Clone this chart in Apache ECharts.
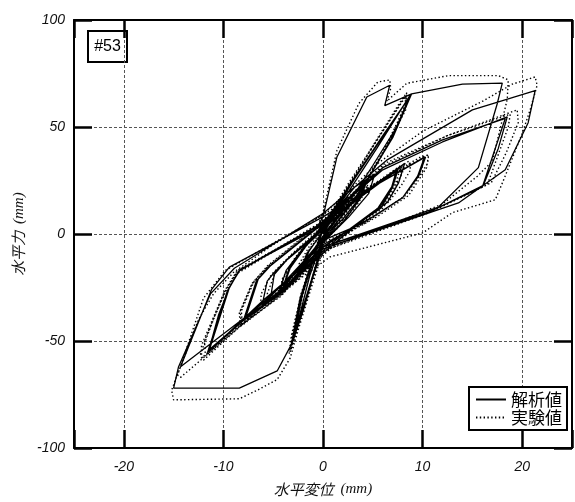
<!DOCTYPE html>
<html>
<head>
<meta charset="utf-8">
<script src="https://cdn.jsdelivr.net/npm/echarts@6/dist/echarts.min.js"></script>
<style>
html,body{margin:0;padding:0;background:#fff;}
#chart{width:575px;height:502px;}
</style>
</head>
<body>
<div id="chart"></div>
<script>
// ---- data ----
const xTickLabels = [-20, -10, 0, 10, 20];
const yTickLabels = [-100, -50, 0, 50, 100];
const seriesNames = ['解析値', '実験値'];
const specimenLabel = '#53';

// analysis (solid) load path [displacement mm, force]
const analysisPts = [
  [0,0],[1.2,9],[2.2,16],[1.6,9],[0.3,1],[-1.2,-9],[-2.0,-15],[-1.4,-8],[-0.2,0],[1.3,10],[2.5,18],[1.8,10],[0.3,0],[-1.3,-10],[-2.3,-17],[-1.6,-9],[0,1],
  [1.5,11],[3.0,19],[4.3,25],[3.7,17],[2.0,7],[0,-2],[-1.8,-12],[-3.2,-20],[-4.0,-25],[-3.3,-16],[-1.6,-5],[0,2],[2.0,13],[4.5,26],[3.8,17],[2.1,6],[0,-3],[-2.0,-13],[-4.1,-26],[-3.4,-16],[-1.7,-5],[0,3],
  [1.8,14],[3.2,22],[5.2,28],[4.6,19],[2.6,8],[0,-4],[-2.2,-15],[-4.4,-27],[-3.7,-17],[-1.9,-6],[0,4],
  [3,25],[6,46],[8.9,65.5],[7,45],[4,22],[1,3],[0,-3],[-1,-20],[-2,-36],[-3.1,-51],[-2.2,-30],[-1,-12],[0,2],[3.2,26],[8.8,65],[6.8,44],[3.8,20],[0.8,2],[0,-4],[-1.1,-21],[-3.0,-50],[-2.1,-29],[-0.9,-11],[0,3],
  [2.6,20],[5.4,40],[8.7,64.5],[7.4,50],[5,32],[2.5,14],[0,-2],[-1.3,-19],[-2.9,-48],[-2.4,-33],[-1.2,-14],[0,2],
  [3.5,17],[7.4,30],[6.9,22],[5.5,12],[2,0],[0,-8],[-2.5,-19],[-5.3,-31],[-4.9,-19],[-3.6,-12],[0,2],
  [3.7,18],[7.6,31],[7.0,22],[5.6,12],[2,-1],[0,-9],[-3,-22],[-6.1,-33],[-5.6,-22],[-4.9,-18],[-3.4,-11],[0,3],
  [2.8,24],[8.9,65.5],[6.6,42],[3.5,18],[0,-3],[-1.2,-22],[-3.2,-52],[-2.3,-30],[-1,-11],[0,3],
  [5,22],[10.3,36],[9.6,27],[8,17],[5,8],[0,-5],[-4,-26],[-7.9,-40],[-6.6,-21.5],[-5.4,-15.3],[-0.6,3],
  [4.8,21],[8.2,33],[7.6,24],[6.5,15],[3,3],[0,-6],[-4.1,-27],[-7.8,-39.5],[-6.5,-21],[-5.3,-15],[-0.5,3],
  [4,18],[7.5,30],[7,22],[5.8,12],[2,0],[0,-8],[-4,-27],[-8,-40.5],[-6.7,-22],[-5.5,-15.5],[-0.6,3],
  [0,8],[1.4,36],[4.4,64],[6.7,69.5],[6.2,60],[8.9,65.5],[14,70],[18,70.5],[17.5,61],[15.6,31],[11.6,12.6],[0,-6],[-1,-20],[-3.1,-51],[-4.6,-64],[-8.4,-72],[-15,-72],[-14.5,-62],[-11.3,-28],[-8.9,-16],[0,9.6],
  [6.4,34.5],[15,58],[21.3,67],[20.6,52],[18.3,30],[13.6,14.5],[0,-7],[-6,-31],[-11.5,-55],[-10.5,-38],[-9.5,-26],[-8.4,-17],[-0.5,4],
  [6,30],[12,43],[18.5,54.7],[17.6,40],[16.1,22.8],[10.7,10.3],[0,-6],[-6,-32],[-11.6,-55.5],[-9.6,-26.5],[-8.5,-17.5],[-0.4,4],
  [6,31],[12,44],[18.3,54],[16,22],[10.5,10],[0,-7],[-7,-36],[-14.3,-62],[-11.2,-26],[-9.4,-15.5],[0,8],
  [5,22],[10.2,36],[9.5,27],[8,17],[4,5],[0,-3],[-5,-28],[-11.4,-54],[-9.4,-25],[-8.3,-16.5],[0,4],[2,10],[0,0]
];

// experiment (dotted) load path [displacement mm, force]
const testPts = [
  [0,0],[1.0,8],[2.0,15],[2.2,14],[1.2,6],[0,-1],[-1.1,-9],[-1.9,-15],[-2.1,-13],[-1.2,-6],[0,1],[1.2,9],[2.4,17],[2.5,15],[1.5,7],[0,-2],[-1.2,-10],[-2.3,-17],[-2.4,-14],[-1.4,-6],[0,2],
  [1.6,10],[3.1,18],[4.4,24],[4.3,20],[3.2,12],[1.5,4],[0,-3],[-1.9,-13],[-3.3,-21],[-4.2,-26],[-4.0,-21],[-2.8,-12],[-1.4,-4],[0,3],[2.1,13],[4.6,26],[4.4,21],[3,12],[1.5,3],[0,-4],[-2.1,-14],[-4.3,-27],[-4.1,-21],[-2.8,-11],[-1.4,-3],[0,4],
  [2.5,22],[5.5,45],[7.8,62],[8.4,66],[8.2,60],[6.5,42],[3.5,18],[1,2],[0,-5],[-1.1,-22],[-2.1,-38],[-3.2,-54],[-3.0,-48],[-2.0,-28],[-0.8,-10],[0,3],[3,26],[8.2,64],[8.5,62],[6.2,40],[3.2,16],[0.6,0],[0,-5],[-1.2,-23],[-3.3,-55],[-3.1,-47],[-2,-27],[-0.8,-9],[0,4],
  [3.6,18],[7.2,30],[7.8,31],[7.3,24],[5.8,13],[2.5,1],[0,-9],[-2.6,-21],[-5.5,-33],[-5.6,-28],[-4.8,-18],[-3.2,-10],[0,3],
  [3.8,19],[7.8,32],[8.0,29],[7.2,22],[5.8,12],[2.2,-1],[0,-10],[-3.1,-24],[-6.3,-35],[-6.2,-28],[-5.2,-19],[-3.5,-11],[0,4],
  [2.6,24],[8.4,65],[8.3,58],[6.3,40],[3.3,16],[0,-4],[-1.3,-24],[-3.4,-56],[-3.2,-48],[-2.2,-28],[-0.9,-9],[0,4],
  [5,23],[9.8,36],[10.6,37],[10.4,31],[8.6,18],[5.4,8],[0,-6],[-4.1,-28],[-8.2,-43],[-8.3,-36],[-7.1,-23],[-5.6,-15],[-0.6,4],
  [4.8,22],[8.6,34],[8.8,30],[7.9,23],[6.6,15],[3,3],[0,-7],[-4.2,-29],[-8.1,-42],[-8.2,-36],[-6.9,-22],[-5.5,-15],[-0.5,4],
  [4,19],[7.7,31],[7.9,28],[7.2,21],[6,12],[2,-1],[0,-9],[-4.1,-28],[-8.3,-43],[-8.4,-37],[-7.2,-24],[-5.7,-16],[-0.6,3],
  [0,10],[1.4,39],[3.6,61],[5.5,71],[6.7,72],[6.8,68],[6.4,62],[8.4,70.4],[12.6,74],[17.6,74],[18.6,72],[18.5,63],[17,34],[15.5,27],[12,14],[0,-8],[-1.1,-24],[-2.5,-45],[-3.3,-58],[-4.6,-68],[-6.6,-73],[-8.4,-77],[-15,-77.5],[-15.2,-73],[-14.8,-68],[-12.5,-40],[-11,-28],[-9,-18],[-5,-5],[0,9],
  [5.5,33],[10,48],[16,62],[19,70],[21.3,73.4],[21.5,69.5],[20.8,58],[20,47],[18.2,26],[17.3,16],[13,10],[10,0.5],[0.7,-10.7],[-6.2,-34],[-12,-59],[-12.3,-56],[-11,-40],[-9.8,-27],[-8.6,-18],[-0.4,5],
  [6.2,32],[12.5,46],[19.5,58],[19.6,52],[18.4,38],[16.9,24],[11,11],[0,-7],[-6.2,-34],[-12.2,-58],[-12.2,-52],[-10,-28],[-8.8,-19],[-0.3,5],
  [6.2,33],[12.5,46],[18.8,56],[18.6,50],[16.5,23],[10.7,10],[0,-8],[-7.3,-39],[-14.3,-67],[-14.6,-66],[-12,-30],[-9.8,-17],[0,9],
  [5,23],[10.6,37],[10.5,33],[9.8,28],[8.3,18],[4.2,5],[0,-4],[-5.1,-30],[-11.8,-57],[-11.9,-50],[-9.8,-26],[-8.6,-17],[0,5],[2,11],[0,0]
];

// ---- chart ----
const chart = echarts.init(document.getElementById('chart'), null, {renderer: 'canvas'});
const labelFont = {fontFamily: 'Liberation Sans, Arial, sans-serif', fontStyle: 'italic', fontSize: 14, color: '#111'};
const gridDash = {show: true, lineStyle: {color: '#555', width: 1, type: [3, 2]}};
const tickStyle = {show: true, inside: true, length: 18, lineStyle: {color: '#000', width: 2.5}};
const nameRich = {
  a: {fontFamily: 'Noto Sans CJK JP', fontStyle: 'italic', fontSize: 15, color: '#111'},
  b: {fontFamily: 'Liberation Serif, serif', fontStyle: 'italic', fontSize: 15, color: '#111'}
};

chart.setOption({
  animation: false,
  backgroundColor: '#fff',
  color: ['#000', '#000'],
  grid: {left: 74, right: -1, top: 20, bottom: 53, containLabel: false},
  xAxis: [{
    type: 'value', min: -25, max: 25, splitNumber: 5, position: 'bottom',
    axisLine: {show: true, onZero: false, lineStyle: {color: '#000', width: 2}},
    axisTick: tickStyle,
    axisLabel: Object.assign({margin: 12, formatter: v => (xTickLabels.indexOf(v) >= 0 ? String(v) : '')}, labelFont),
    splitLine: gridDash,
    name: '{a|水平変位}  {b|(mm)}', nameLocation: 'middle', nameGap: 34,
    nameTextStyle: {rich: nameRich}
  }, {
    type: 'value', min: -25, max: 25, splitNumber: 5, position: 'top',
    axisLine: {show: true, onZero: false, lineStyle: {color: '#000', width: 2}},
    axisTick: tickStyle, axisLabel: {show: false}, splitLine: {show: false}
  }],
  yAxis: [{
    type: 'value', min: -100, max: 100, interval: 50, position: 'left',
    axisLine: {show: true, onZero: false, lineStyle: {color: '#000', width: 2}},
    axisTick: tickStyle,
    axisLabel: Object.assign({margin: 9, formatter: v => (yTickLabels.indexOf(v) >= 0 ? String(v) : '')}, labelFont),
    splitLine: gridDash,
    name: '{a|水平力}  {b|(mm)}', nameLocation: 'middle', nameGap: 45, nameRotate: 90,
    nameTextStyle: {rich: nameRich}
  }, {
    type: 'value', min: -100, max: 100, interval: 50, position: 'right',
    axisLine: {show: true, onZero: false, lineStyle: {color: '#000', width: 2}},
    axisTick: tickStyle, axisLabel: {show: false}, splitLine: {show: false}
  }],
  legend: {
    data: seriesNames, orient: 'vertical', left: 469, top: 387,
    itemWidth: 30, itemHeight: 14, itemGap: 1,
    padding: [4, 5, 4, 6],
    backgroundColor: '#fff', borderColor: '#000', borderWidth: 2,
    itemStyle: {opacity: 0},
    textStyle: {fontFamily: 'Noto Sans CJK JP', fontSize: 17, color: '#000'},
    selectedMode: false
  },
  graphic: [{
    type: 'group', left: 87, top: 30,
    children: [
      {type: 'rect', shape: {x: 0, y: 0, width: 39, height: 31}, style: {fill: '#fff', stroke: '#000', lineWidth: 2}},
      {type: 'text', x: 19.5, y: 15.5, style: {text: specimenLabel, fill: '#000', font: '16px "Liberation Sans Narrow", "Liberation Sans", Arial', textAlign: 'center', textVerticalAlign: 'middle'}}
    ]
  }],
  series: [{
    name: seriesNames[0], type: 'line', data: analysisPts, symbol: 'none', showSymbol: false, smooth: false,
    itemStyle: {color: '#000'},
    lineStyle: {color: '#000', width: 1.3, type: 'solid'}, z: 3
  }, {
    name: seriesNames[1], type: 'line', data: testPts, symbol: 'none', showSymbol: false, smooth: false,
    itemStyle: {color: '#000'},
    lineStyle: {color: '#000', width: 1.4, type: [1.4, 2.4]}, z: 2
  }]
});
</script>
</body>
</html>
